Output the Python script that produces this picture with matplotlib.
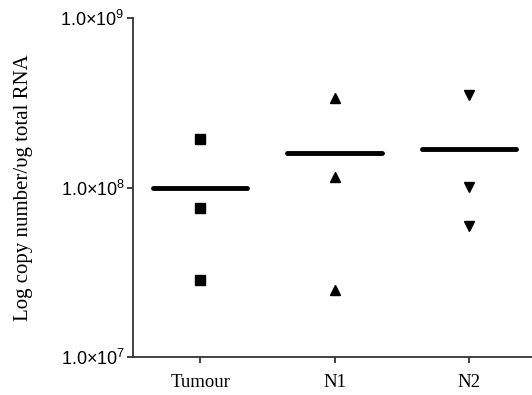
import numpy as np
import matplotlib
matplotlib.use("Agg")
import matplotlib.pyplot as plt
from matplotlib.ticker import FixedLocator, FixedFormatter

plt.rcParams["mathtext.fontset"] = "custom"
plt.rcParams["mathtext.rm"] = "Liberation Sans"
plt.rcParams["mathtext.it"] = "Liberation Sans"

groups = ["Tumour", "N1", "N2"]
tumour = [1.93e8, 7.6e7, 2.85e7]
n1 = [3.36e8, 1.16e8, 2.48e7]
n2 = [3.52e8, 1.01e8, 5.96e7]
medians = [1.0e8, 1.60e8, 1.68e8]
markers = ["s", "^", "v"]

yticks = [1e7, 1e8, 1e9]
ytick_labels = [r"$\mathrm{1.0{\times}10^{7}}$", r"$\mathrm{1.0{\times}10^{8}}$",
                r"$\mathrm{1.0{\times}10^{9}}$"]

fig = plt.figure(figsize=(5.32, 3.95), dpi=100)
ax = fig.add_axes([0.25, 0.0962, 0.75, 0.858])

for i, vals in enumerate([tumour, n1, n2]):
    ax.plot([i] * len(vals), vals, linestyle="none", marker=markers[i],
            markersize=7.5, color="black", clip_on=False)
    ax.plot([i - 0.35, i + 0.35], [medians[i]] * 2, color="black",
            linewidth=3.5, solid_capstyle="round")

ax.set_yscale("log")
ax.set_ylim(1e7, 1e9)
ax.set_xlim(-0.5, 2.47)
ax.yaxis.set_major_locator(FixedLocator(yticks))
ax.yaxis.set_major_formatter(FixedFormatter(ytick_labels))
ax.yaxis.set_minor_locator(FixedLocator([]))
ax.set_xticks(range(len(groups)))
ax.set_xticklabels(groups, family="Liberation Serif", fontsize=13.5)
for lab in ax.get_yticklabels():
    lab.set_fontsize(13)

ax.spines["top"].set_visible(False)
ax.spines["right"].set_visible(False)
ax.spines["left"].set_linewidth(1.3)
ax.spines["bottom"].set_linewidth(1.3)
ax.spines["left"].set_color("#333333")
ax.spines["bottom"].set_color("#333333")
ax.tick_params(axis="both", length=4, width=1.3, color="#333333", pad=2)
ax.tick_params(axis="x", pad=8)

ax.set_ylabel("Log copy number/υg total RNA", family="Liberation Serif",
              fontsize=15, labelpad=20)

fig.savefig("out.png", dpi=100)
